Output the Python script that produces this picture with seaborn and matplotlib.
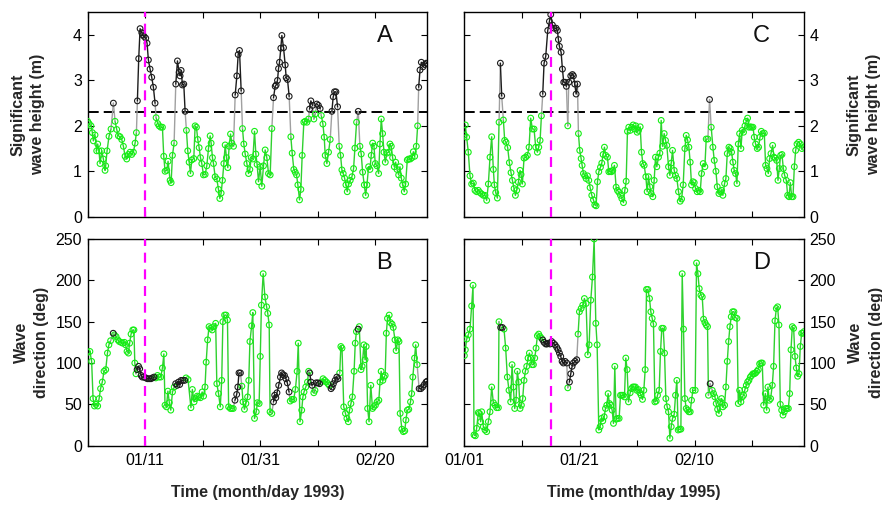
import numpy as np
import pandas as pd
import matplotlib
matplotlib.use("Agg")
import matplotlib.pyplot as plt
import seaborn as sns

# ---------------------------------------------------------------------------
# Observations, time in days after 1 January of each year
# ---------------------------------------------------------------------------
day_hs93 = [0.00, 0.25, 0.59, 0.83, 1.00, 1.29, 1.58, 1.75, 1.98, 2.16,
            2.45, 2.74, 3.03, 3.14, 3.38, 3.72, 4.07, 4.48, 4.77, 5.06,
            5.35, 5.64, 5.93, 6.22, 6.51, 6.80, 7.09, 7.38, 7.67, 7.96,
            8.25, 8.48, 8.65, 8.88, 9.12, 9.41, 9.58, 9.81, 10.10, 10.33,
            10.56, 10.85, 11.14, 11.43, 11.72, 11.90, 12.19, 12.42, 12.71, 13.00,
            13.23, 13.46, 13.75, 13.98, 14.33, 14.51, 14.74, 15.03, 15.32, 15.61,
            15.90, 16.07, 16.25, 16.48, 16.71, 16.94, 17.17, 17.40, 17.64, 17.87,
            18.10, 18.45, 18.68, 18.91, 19.14, 19.38, 19.61, 19.84, 20.13, 20.42,
            20.71, 21.00, 21.29, 21.46, 21.69, 21.87, 22.16, 22.45, 22.74, 22.97,
            23.20, 23.43, 23.67, 23.90, 24.13, 24.36, 24.59, 24.83, 25.06, 25.35,
            25.64, 25.93, 26.16, 26.39, 26.68, 26.91, 27.14, 27.38, 27.67, 27.96,
            28.19, 28.42, 28.71, 29.00, 29.23, 29.45, 29.69, 29.98, 30.27, 30.56,
            30.85, 31.14, 31.43, 31.72, 32.01, 32.30, 32.59, 32.76, 32.99, 33.17,
            33.34, 33.57, 33.75, 34.04, 34.33, 34.50, 34.73, 35.02, 35.31, 35.54,
            35.83, 36.07, 36.30, 36.53, 36.82, 37.05, 37.28, 37.57, 37.80, 38.10,
            38.39, 38.56, 38.79, 39.08, 39.31, 39.54, 39.83, 40.10, 40.40, 40.60,
            40.88, 41.11, 41.28, 41.57, 41.86, 42.15, 42.44, 42.67, 42.90, 43.14,
            43.43, 43.72, 43.95, 44.18, 44.41, 44.65, 44.88, 45.11, 45.34, 45.63,
            45.92, 46.21, 46.44, 46.73, 47.02, 47.31, 47.54, 47.78, 48.07, 48.30,
            48.53, 48.82, 49.05, 49.28, 49.52, 49.75, 49.98, 50.27, 50.56, 50.79,
            51.02, 51.25, 51.49, 51.72, 52.01, 52.30, 52.53, 52.76, 52.99, 53.28,
            53.52, 53.75, 54.04, 54.27, 54.50, 54.73, 55.02, 55.25, 55.54, 55.78,
            56.07, 56.36, 56.59, 56.82, 57.11, 57.34, 57.52, 57.75, 57.98, 58.27,
            58.56, 58.85, 59.00]
hs93 = [2.10, 2.05, 2.00, 1.85, 1.67, 1.80, 1.45, 1.60, 1.45, 1.17,
        1.45, 1.27, 1.02, 1.12, 1.45, 1.77, 1.93, 2.50, 2.10, 1.92,
        1.78, 1.76, 1.70, 1.55, 1.33, 1.27, 1.37, 1.42, 1.37, 1.42,
        1.62, 1.85, 2.55, 3.48, 4.14, 4.05, 4.00, 3.97, 3.93, 3.82,
        3.45, 3.25, 3.07, 2.85, 2.50, 2.18, 2.05, 2.00, 1.97, 1.97,
        1.33, 1.00, 1.02, 1.22, 0.80, 0.75, 1.35, 1.62, 2.92, 3.43,
        3.18, 3.10, 3.22, 2.90, 2.92, 2.32, 1.90, 1.45, 1.20, 0.95,
        1.25, 1.28, 2.00, 1.97, 1.70, 1.52, 1.30, 1.17, 0.92, 0.93,
        1.12, 1.50, 1.78, 1.62, 1.30, 1.17, 0.88, 0.83, 0.60, 0.40,
        0.52, 0.80, 1.17, 1.58, 1.30, 1.08, 1.55, 1.82, 1.62, 1.55,
        2.68, 3.10, 3.57, 3.66, 2.77, 1.94, 1.60, 1.38, 1.17, 0.95,
        1.04, 1.30, 1.27, 1.88, 1.38, 1.15, 0.77, 1.10, 0.67, 1.12,
        1.47, 1.30, 0.95, 0.92, 1.94, 2.62, 2.87, 2.90, 3.00, 3.26,
        3.40, 3.71, 3.99, 3.72, 3.34, 3.06, 3.02, 2.65, 1.76, 1.40,
        1.04, 0.98, 0.92, 0.70, 0.37, 0.60, 1.35, 2.08, 2.10, 2.08,
        2.15, 2.37, 2.55, 2.45, 2.15, 2.26, 2.48, 2.45, 2.38, 2.23,
        2.04, 1.75, 1.35, 1.17, 1.42, 1.70, 2.32, 2.64, 2.75, 2.75,
        2.42, 1.55, 1.35, 1.03, 0.95, 0.85, 0.70, 0.55, 0.72, 0.80,
        0.88, 1.06, 1.51, 2.08, 2.32, 1.55, 1.38, 0.98, 0.70, 0.47,
        0.70, 1.10, 1.04, 1.35, 1.62, 1.55, 1.17, 1.12, 0.95, 1.60,
        2.15, 1.83, 1.42, 1.20, 1.40, 1.42, 1.60, 1.55, 1.30, 1.10,
        1.20, 1.04, 0.92, 1.10, 0.85, 0.70, 0.55, 0.72, 1.25, 1.27,
        1.27, 1.30, 1.43, 1.33, 1.55, 2.00, 2.85, 3.23, 3.40, 3.30,
        3.35, 3.38, 3.37]

day_dir93 = [0.00, 0.40, 0.70, 0.95, 1.20, 1.45, 1.75, 2.00, 2.25, 2.55,
             2.85, 3.15, 3.45, 3.70, 4.00, 4.45, 4.65, 4.95, 5.25, 5.50,
             5.80, 6.10, 6.40, 6.60, 6.85, 7.10, 7.30, 7.55, 7.85, 8.05,
             8.20, 8.40, 8.60, 8.85, 9.05, 9.30, 9.50, 9.80, 10.10, 10.40,
             10.70, 11.00, 11.25, 11.55, 11.85, 12.15, 12.40, 12.70, 13.00, 13.25,
             13.45, 13.70, 13.95, 14.20, 14.45, 14.75, 15.05, 15.30, 15.55, 15.80,
             16.00, 16.25, 16.55, 16.85, 17.10, 17.45, 17.95, 18.20, 18.50, 18.75,
             19.05, 19.30, 19.60, 19.90, 20.15, 20.40, 20.60, 20.85, 21.10, 21.35,
             21.65, 21.95, 22.25, 22.45, 22.75, 23.05, 23.30, 23.50, 23.80, 24.05,
             24.30, 24.50, 24.80, 25.05, 25.30, 25.60, 25.90, 26.10, 26.30, 26.55,
             26.80, 27.00, 27.25, 27.50, 27.80, 28.00, 28.20, 28.50, 28.70, 29.00,
             29.30, 29.50, 29.80, 30.00, 30.20, 30.50, 30.80, 31.10, 31.30, 31.55,
             31.70, 32.00, 32.30, 32.50, 32.70, 32.90, 33.20, 33.50, 33.70, 33.90,
             34.20, 34.45, 34.70, 35.00, 35.20, 35.50, 35.80, 36.10, 36.40, 36.60,
             36.90, 37.20, 37.40, 37.60, 37.90, 38.20, 38.40, 38.60, 38.80, 39.00,
             39.30, 39.50, 39.70, 40.00, 40.30, 40.60, 40.90, 41.20, 41.50, 41.75,
             42.00, 42.30, 42.50, 42.70, 43.00, 43.30, 43.50, 43.80, 44.00, 44.20,
             44.50, 44.80, 45.05, 45.30, 45.50, 45.75, 46.00, 46.30, 46.50, 46.70,
             47.00, 47.20, 47.50, 47.70, 48.00, 48.20, 48.40, 48.65, 48.90, 49.20,
             49.50, 49.70, 50.00, 50.30, 50.60, 50.80, 51.00, 51.30, 51.50, 51.70,
             51.90, 52.10, 52.40, 52.60, 52.90, 53.10, 53.40, 53.60, 53.90, 54.10,
             54.30, 54.60, 54.85, 55.10, 55.30, 55.55, 55.80, 56.10, 56.30, 56.50,
             56.80, 57.00, 57.25, 57.60, 57.90, 58.20, 58.50, 58.80, 59.00]
dir93 = [113, 114, 102, 57, 48, 50, 48, 57, 69, 77,
         90, 92, 112, 122, 127, 136, 134, 132, 128, 126,
         125, 124, 125, 122, 114, 112, 124, 135, 140, 140,
         100, 87, 92, 96, 93, 85, 83, 83, 82, 81,
         81, 81, 82, 83, 82, 85, 83, 83, 94, 111,
         49, 47, 66, 52, 43, 65, 71, 75, 73, 77,
         74, 79, 79, 79, 82, 80, 46, 68, 53, 57,
         60, 59, 58, 65, 60, 71, 101, 128, 144, 142,
         140, 144, 148, 75, 63, 47, 79, 150, 158, 158,
         152, 47, 45, 45, 45, 55, 62, 71, 88, 88,
         72, 53, 44, 51, 59, 79, 126, 145, 161, 33,
         41, 52, 51, 108, 170, 208, 180, 168, 160, 146,
         41, 39, 53, 61, 58, 64, 73, 83, 88, 86,
         85, 81, 76, 65, 54, 56, 56, 68, 90, 124,
         29, 43, 59, 65, 71, 77, 90, 88, 77, 73,
         64, 67, 76, 76, 75, 77, 81, 79, 77, 75,
         73, 69, 71, 75, 79, 83, 81, 88, 120, 118,
         47, 39, 33, 29, 43, 51, 59, 90, 124, 138,
         141, 144, 92, 96, 122, 104, 120, 45, 29, 73,
         45, 47, 49, 53, 55, 77, 90, 79, 83, 85,
         136, 154, 158, 149, 147, 143, 128, 115, 128, 126,
         39, 20, 17, 18, 31, 43, 44, 53, 63, 83,
         106, 122, 98, 69, 69, 71, 74, 77, 78]

day_hs95 = [0.00, 0.16, 0.39, 0.68, 0.97, 1.26, 1.55, 1.84, 2.13, 2.42,
            2.71, 3.00, 3.29, 3.58, 3.87, 4.16, 4.45, 4.74, 5.03, 5.21,
            5.44, 5.73, 6.02, 6.25, 6.48, 6.77, 7.00, 7.23, 7.52, 7.81,
            8.10, 8.34, 8.63, 8.86, 9.09, 9.38, 9.67, 9.84, 10.07, 10.36,
            10.65, 10.94, 11.23, 11.52, 11.81, 12.10, 12.39, 12.68, 12.92, 13.15,
            13.38, 13.61, 13.84, 14.13, 14.48, 14.77, 15.00, 15.29, 15.58, 15.93,
            16.16, 16.33, 16.51, 16.80, 17.03, 17.26, 17.49, 17.72, 17.96, 18.13,
            18.48, 18.77, 18.94, 19.17, 19.41, 19.64, 19.81, 20.04, 20.28, 20.45,
            20.68, 20.91, 21.14, 21.38, 21.61, 21.84, 22.13, 22.42, 22.65, 22.88,
            23.12, 23.35, 23.64, 23.87, 24.10, 24.33, 24.56, 24.85, 25.09, 25.32,
            25.55, 25.78, 26.07, 26.36, 26.59, 26.83, 27.12, 27.35, 27.64, 27.87,
            28.10, 28.33, 28.56, 28.80, 29.09, 29.32, 29.55, 29.78, 30.01, 30.25,
            30.54, 30.77, 31.00, 31.23, 31.52, 31.75, 31.99, 32.22, 32.45, 32.74,
            32.97, 33.20, 33.43, 33.72, 33.96, 34.19, 34.42, 34.71, 34.94, 35.17,
            35.46, 35.70, 35.93, 36.16, 36.45, 36.68, 36.91, 37.20, 37.49, 37.73,
            38.01, 38.30, 38.54, 38.77, 39.00, 39.23, 39.46, 39.70, 39.93, 40.16,
            40.45, 40.74, 40.97, 41.20, 41.49, 41.78, 42.01, 42.30, 42.59, 42.88,
            43.17, 43.41, 43.70, 43.93, 44.22, 44.45, 44.68, 44.91, 45.20, 45.43,
            45.67, 45.96, 46.19, 46.42, 46.65, 46.88, 47.11, 47.35, 47.58, 47.81,
            48.04, 48.27, 48.50, 48.74, 48.97, 49.20, 49.43, 49.67, 49.90, 50.13,
            50.36, 50.59, 50.88, 51.11, 51.35, 51.58, 51.81, 52.10, 52.33, 52.57,
            52.80, 53.03, 53.26, 53.55, 53.78, 54.01, 54.25, 54.48, 54.71, 54.94,
            55.17, 55.41, 55.64, 55.93, 56.16, 56.39, 56.62, 56.86, 57.09, 57.32,
            57.55, 57.78, 58.07, 58.36, 58.65, 58.94]
hs95 = [1.80, 2.02, 1.75, 1.42, 0.90, 0.72, 0.74, 0.58, 0.55, 0.58,
        0.53, 0.50, 0.47, 0.47, 0.36, 0.72, 1.31, 1.76, 1.04, 0.70,
        0.53, 0.41, 2.08, 3.38, 2.66, 2.13, 1.68, 1.64, 1.52, 1.19,
        0.97, 0.80, 0.62, 0.47, 0.58, 0.76, 1.02, 0.93, 0.72, 1.29,
        1.31, 1.35, 1.53, 2.17, 1.93, 1.93, 1.53, 1.42, 1.53, 1.68,
        2.22, 2.70, 3.38, 3.53, 4.10, 4.30, 4.45, 4.22, 4.15, 4.15,
        4.10, 3.90, 3.75, 3.62, 3.25, 2.96, 2.96, 2.87, 2.00, 2.96,
        3.10, 3.13, 3.10, 2.92, 2.70, 2.92, 1.83, 1.46, 1.28, 1.13,
        0.95, 0.90, 0.84, 0.90, 0.80, 0.64, 0.47, 0.37, 0.26, 0.24,
        0.77, 0.99, 1.09, 1.18, 1.37, 1.53, 1.35, 1.31, 0.99, 1.00,
        0.99, 1.02, 1.13, 0.65, 0.58, 0.54, 0.47, 0.40, 0.31, 0.58,
        0.78, 1.88, 1.97, 1.90, 1.97, 2.02, 1.93, 2.00, 1.86, 1.90,
        1.98, 1.42, 1.17, 1.13, 0.88, 0.55, 0.88, 0.66, 0.51, 0.44,
        0.80, 1.31, 1.10, 1.31, 1.40, 2.12, 1.55, 1.83, 1.68, 1.57,
        1.10, 0.91, 1.18, 1.46, 1.02, 0.91, 0.84, 0.55, 0.34, 0.39,
        0.70, 1.50, 1.79, 1.69, 1.53, 1.20, 0.70, 0.77, 0.75, 0.62,
        0.55, 0.58, 0.55, 0.95, 1.17, 1.10, 1.71, 1.71, 2.58, 1.97,
        1.53, 1.24, 1.00, 0.66, 0.51, 0.55, 0.58, 0.47, 0.73, 0.84,
        1.39, 1.53, 1.50, 1.42, 1.20, 1.02, 0.95, 0.73, 1.60, 1.83,
        1.50, 1.90, 1.86, 2.00, 2.10, 2.17, 1.97, 1.98, 1.97, 1.97,
        1.75, 1.60, 1.50, 1.53, 1.75, 1.88, 1.83, 1.84, 1.13, 1.06,
        0.95, 1.28, 1.39, 1.57, 1.31, 1.29, 1.24, 0.80, 1.06, 1.35,
        1.37, 1.06, 0.91, 0.80, 0.47, 0.44, 0.75, 0.44, 0.44, 1.10,
        1.46, 1.60, 1.64, 1.60, 1.50, 1.53]

day_dir95 = [0.00, 0.16, 0.40, 0.68, 0.97, 1.26, 1.50, 1.67, 1.90, 2.13,
             2.42, 2.60, 2.83, 3.00, 3.29, 3.58, 3.87, 4.16, 4.45, 4.74,
             5.03, 5.32, 5.61, 5.90, 6.01, 6.30, 6.59, 6.88, 7.17, 7.46,
             7.75, 8.04, 8.28, 8.51, 8.74, 8.97, 9.20, 9.43, 9.67, 9.90,
             10.13, 10.36, 10.59, 10.83, 11.06, 11.29, 11.52, 11.75, 11.99, 12.22,
             12.45, 12.68, 12.91, 13.14, 13.38, 13.61, 13.84, 14.13, 14.36, 14.59,
             14.88, 15.17, 15.46, 15.75, 16.04, 16.28, 16.51, 16.74, 16.97, 17.20,
             17.49, 17.78, 17.96, 18.25, 18.48, 18.71, 18.94, 19.23, 19.52, 19.75,
             19.98, 20.28, 20.56, 20.85, 21.14, 21.43, 21.67, 21.96, 22.25, 22.54,
             22.83, 23.06, 23.35, 23.58, 23.81, 24.04, 24.28, 24.51, 24.74, 24.97,
             25.20, 25.43, 25.67, 25.90, 26.13, 26.36, 26.59, 26.88, 27.12, 27.35,
             27.58, 27.81, 28.04, 28.27, 28.51, 28.80, 29.03, 29.26, 29.49, 29.72,
             29.96, 30.19, 30.48, 30.71, 30.94, 31.17, 31.41, 31.64, 31.87, 32.16,
             32.39, 32.62, 32.85, 33.09, 33.32, 33.55, 33.84, 34.07, 34.30, 34.54,
             34.77, 35.00, 35.23, 35.46, 35.70, 35.93, 36.16, 36.45, 36.68, 36.91,
             37.14, 37.38, 37.61, 37.84, 38.07, 38.30, 38.54, 38.77, 39.00, 39.23,
             39.46, 39.70, 40.10, 40.33, 40.57, 40.80, 41.09, 41.32, 41.55, 41.78,
             42.01, 42.24, 42.40, 42.70, 43.06, 43.29, 43.52, 43.75, 43.99, 44.22,
             44.45, 44.68, 44.91, 45.20, 45.43, 45.67, 45.90, 46.13, 46.36, 46.59,
             46.83, 47.06, 47.35, 47.58, 47.81, 48.04, 48.27, 48.50, 48.74, 48.97,
             49.20, 49.43, 49.67, 49.90, 50.13, 50.36, 50.59, 50.83, 51.06, 51.29,
             51.52, 51.75, 51.99, 52.28, 52.51, 52.74, 52.97, 53.20, 53.49, 53.72,
             53.96, 54.19, 54.42, 54.65, 54.88, 55.12, 55.35, 55.58, 55.81, 56.04,
             56.28, 56.51, 56.74, 56.97, 57.20, 57.43, 57.67, 57.90, 58.13, 58.36,
             58.59, 58.83, 59.00]
dir95 = [109, 116, 129, 134, 141, 169, 194, 13, 12, 21,
         40, 39, 29, 41, 23, 19, 17, 29, 41, 71,
         52, 49, 46, 46, 150, 143, 143, 141, 118, 83,
         67, 53, 98, 71, 45, 55, 90, 77, 45, 49,
         57, 79, 90, 96, 106, 112, 106, 98, 98, 106,
         118, 133, 135, 132, 130, 128, 125, 123, 123, 124,
         123, 126, 124, 122, 119, 116, 112, 108, 102, 100,
         102, 100, 70, 77, 87, 96, 100, 102, 104, 135,
         162, 166, 170, 178, 172, 110, 122, 176, 204, 250,
         148, 122, 19, 23, 33, 30, 35, 45, 49, 63,
         51, 49, 43, 27, 96, 32, 33, 33, 61, 61,
         61, 59, 106, 92, 53, 64, 69, 71, 71, 71,
         67, 68, 64, 61, 56, 67, 92, 189, 189, 178,
         162, 154, 147, 53, 54, 61, 67, 114, 142, 142,
         112, 57, 47, 41, 9, 23, 33, 38, 61, 79,
         19, 20, 20, 208, 141, 57, 45, 43, 41, 41,
         55, 67, 67, 221, 208, 190, 182, 180, 153, 149,
         146, 144, 61, 75, 67, 63, 59, 51, 44, 39,
         53, 57, 47, 49, 71, 102, 126, 144, 156, 162,
         162, 155, 154, 51, 67, 53, 59, 61, 68, 73,
         77, 79, 83, 85, 87, 87, 88, 90, 92, 99,
         100, 100, 49, 63, 43, 71, 55, 57, 73, 96,
         151, 166, 168, 146, 50, 43, 37, 41, 45, 45,
         45, 63, 116, 144, 142, 108, 94, 84, 87, 120,
         136, 136, 138]

hs_threshold = 2.3          # m
event_day93 = 10            # 11 January 1993
event_day95 = 15            # 16 January 1995

tick_days = [0, 10, 20, 30, 40, 50]
tick_labels93 = ["", "01/11", "", "01/31", "", "02/20"]
tick_labels95 = ["01/01", "", "01/21", "", "02/10", ""]

# ---------------------------------------------------------------------------
GREEN_LINE = "#2fd12f"
GREEN_MARK = "#14ee14"
BLACK = "#1c1c1c"
GREY = "#a0a0a0"
MAGENTA = "#ff00ff"

sns.set_style("white")
plt.rcParams["font.family"] = ["Liberation Sans", "DejaVu Sans"]
plt.rcParams["axes.linewidth"] = 1.0
plt.rcParams["axes.edgecolor"] = "black"


def flags_nearest(day_dir, day_hs, hs):
    """Flag each direction sample by the wave height observed closest in time."""
    td = np.asarray(day_dir, float)
    th = np.asarray(day_hs, float)
    h = np.asarray(hs, float)
    idx = np.abs(td[:, None] - th[None, :]).argmin(axis=1)
    return h[idx] > hs_threshold


def line_runs(days, vals, flags):
    """Split a series into polylines: all-below, all-above, and crossing segments."""
    n = min(len(days), len(vals))
    kinds = []
    for i in range(n - 1):
        a, b = flags[i], flags[i + 1]
        kinds.append("above" if (a and b) else ("below" if (not a and not b) else "cross"))
    runs = []
    for i, k in enumerate(kinds):
        if runs and runs[-1][0] == k and k != "cross":
            runs[-1][2] = i + 1
        else:
            runs.append([k, i, i + 1])
    rows = []
    for r, (k, i0, i1) in enumerate(runs):
        for j in range(i0, i1 + 1):
            rows.append((days[j], vals[j], r, k))
    return pd.DataFrame(rows, columns=["day", "value", "run", "kind"])


def draw_series(ax, days, vals, flags):
    n = min(len(days), len(vals))
    days, vals, flags = list(days[:n]), list(vals[:n]), np.asarray(flags[:n])
    runs = line_runs(days, vals, flags)
    sns.lineplot(data=runs, x="day", y="value", units="run", hue="kind",
                 estimator=None, sort=False, legend=False, linewidth=1.0,
                 palette={"below": GREEN_LINE, "above": BLACK, "cross": GREY},
                 ax=ax, zorder=2)
    pts = pd.DataFrame({"day": days, "value": vals, "above": flags})
    sns.scatterplot(data=pts[~pts["above"]], x="day", y="value", marker="o",
                    s=17, color="none", edgecolor=GREEN_MARK, linewidth=0.8,
                    legend=False, ax=ax, zorder=3)
    sns.scatterplot(data=pts[pts["above"]], x="day", y="value", marker="o",
                    s=17, color="none", edgecolor=BLACK, linewidth=0.8,
                    legend=False, ax=ax, zorder=3)


W, H = 882, 505
fig = plt.figure(figsize=(W / 100, H / 100), dpi=100)


def rect(x0, x1, y0, y1):
    return [x0 / W, 1 - y1 / H, (x1 - x0) / W, (y1 - y0) / H]


ax_a = fig.add_axes(rect(87.6, 427.2, 12.3, 216.7))
ax_b = fig.add_axes(rect(87.6, 427.2, 239.0, 445.7))
ax_c = fig.add_axes(rect(464.4, 804.0, 12.3, 216.7))
ax_d = fig.add_axes(rect(464.4, 804.0, 239.0, 445.7))

flags_a = np.asarray(hs93[:len(day_hs93)]) > hs_threshold
flags_c = np.asarray(hs95[:len(day_hs95)]) > hs_threshold
flags_b = flags_nearest(day_dir93, day_hs93, hs93)
flags_d = flags_nearest(day_dir95, day_hs95, hs95)

draw_series(ax_a, day_hs93, hs93, flags_a)
draw_series(ax_b, day_dir93, dir93, flags_b)
draw_series(ax_c, day_hs95, hs95, flags_c)
draw_series(ax_d, day_dir95, dir95, flags_d)

for ax in (ax_a, ax_c):
    ax.axhline(hs_threshold, color="black", lw=1.4, ls=(0, (5.5, 2.6)), zorder=1.5)

for ax in (ax_a, ax_b):
    ax.axvline(event_day93, color=MAGENTA, lw=1.6, ls=(0, (4.5, 3.0)), zorder=4)
for ax in (ax_c, ax_d):
    ax.axvline(event_day95, color=MAGENTA, lw=1.6, ls=(0, (4.5, 3.0)), zorder=4)

for ax, labels in ((ax_a, tick_labels93), (ax_b, tick_labels93),
                   (ax_c, tick_labels95), (ax_d, tick_labels95)):
    ax.set_xlim(0, 59)
    ax.set_xticks(tick_days)
    ax.set_xticklabels(labels)
    ax.set_xlabel("")
    ax.set_ylabel("")
    ax.tick_params(direction="in", length=4.5, width=0.8, labelsize=11.5,
                   top=True, bottom=True, left=True, right=True, colors="black")
    ax.tick_params(axis="x", pad=5)
    ax.tick_params(axis="y", pad=4)
    for sp in ax.spines.values():
        sp.set_visible(True)
        sp.set_color("black")
        sp.set_linewidth(1.0)

for ax in (ax_a, ax_c):
    ax.set_ylim(0, 4.5)
    ax.set_yticks([0, 1, 2, 3, 4])
    ax.tick_params(labelbottom=False)
for ax in (ax_b, ax_d):
    ax.set_ylim(0, 250)
    ax.set_yticks([0, 50, 100, 150, 200, 250])
for ax in (ax_c, ax_d):
    ax.tick_params(labelleft=False, labelright=True)

for ax, letter in ((ax_a, "A"), (ax_b, "B"), (ax_c, "C"), (ax_d, "D")):
    ax.text(0.874, 0.885, letter, transform=ax.transAxes, ha="center",
            va="center", fontsize=17, color="#111111", zorder=5)

lab_kw = dict(rotation=90, ha="center", va="center", fontsize=11.5,
              fontweight="bold", multialignment="center", linespacing=1.45)
ax_a.text(-0.176, 0.5, "Significant\nwave height (m)", transform=ax_a.transAxes, **lab_kw)
ax_b.text(-0.166, 0.5, "Wave\ndirection (deg)", transform=ax_b.transAxes, **lab_kw)
ax_c.text(1.176, 0.5, "Significant\nwave height (m)", transform=ax_c.transAxes, **lab_kw)
ax_d.text(1.182, 0.5, "Wave\ndirection (deg)", transform=ax_d.transAxes, **lab_kw)

ax_b.text(0.5, -0.224, "Time (month/day 1993)", transform=ax_b.transAxes,
          ha="center", va="center", fontsize=11.5, fontweight="bold")
ax_d.text(0.5, -0.224, "Time (month/day 1995)", transform=ax_d.transAxes,
          ha="center", va="center", fontsize=11.5, fontweight="bold")

fig.savefig("out.png", dpi=100, facecolor="white")
